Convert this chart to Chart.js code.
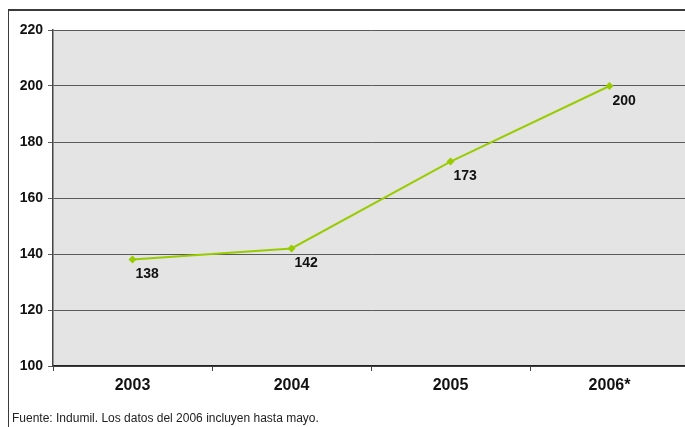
<!DOCTYPE html>
<html>
<head>
<meta charset="utf-8">
<script src="https://cdn.jsdelivr.net/npm/chart.js@4"></script>
<style>
  html, body { margin: 0; padding: 0; background: #fff; overflow: hidden; }
  #wrap { position: relative; width: 685px; height: 427px; overflow: hidden; }
  #frame { position: absolute; left: 8px; top: 9px; width: 700px; height: 430px;
           border-top: 2px solid #3a3a3a; border-left: 1px solid #3a3a3a; }
  #myChart { position: absolute; left: 0; top: 0; }
  #note { position: absolute; left: 12px; top: 411px; font: 12px "Liberation Sans", Arial, sans-serif; color: #222; }
</style>
</head>
<body>
<div id="wrap">
  <div id="frame"></div>
  <canvas id="myChart" width="700" height="427"></canvas>
  <div id="note">Fuente: Indumil. Los datos del 2006 incluyen hasta mayo.</div>
</div>
<script>
var years = ["2003", "2004", "2005", "2006*"];
var values = [138, 142, 173, 200];
var yMin = 100, yMax = 220, yStep = 20;

// fondo gris del area de trazado
var plotBg = {
  id: "plotBg",
  beforeDraw: function (chart) {
    var a = chart.chartArea, c = chart.ctx;
    c.save();
    c.fillStyle = "#e4e4e4";
    c.fillRect(a.left, a.top, a.right - a.left, a.bottom - a.top);
    c.restore();
  }
};

// etiquetas de valor debajo de cada punto
var valueLabels = {
  id: "valueLabels",
  afterDatasetsDraw: function (chart) {
    var c = chart.ctx;
    var meta = chart.getDatasetMeta(0);
    c.save();
    c.font = "bold 14px 'Liberation Sans', Arial, sans-serif";
    c.fillStyle = "#111";
    c.textAlign = "left";
    c.textBaseline = "middle";
    meta.data.forEach(function (pt, i) {
      c.fillText(values[i], pt.x + 3, pt.y + 15);
    });
    c.restore();
  }
};

var ctx = document.getElementById("myChart");
var myChart = new Chart(ctx, {
  type: "line",
  data: {
    labels: years,
    datasets: [{
      label: "",
      data: values,
      borderColor: "#99cc00",
      backgroundColor: "#99cc00",
      borderWidth: 2,
      pointStyle: "rectRot",
      pointRadius: 4,
      pointBorderWidth: 0,
      tension: 0
    }]
  },
  options: {
    responsive: false,
    animation: false,
    events: [],
    layout: { padding: { left: 0, right: 11, top: 30, bottom: 0 } },
    plugins: { legend: { display: false }, tooltip: { enabled: false } },
    scales: {
      x: {
        offset: true,
        grid: { offset: true, drawOnChartArea: false, drawTicks: true, tickLength: 5, color: "#444" },
        border: { color: "#222", width: 1.5 },
        ticks: { padding: 5, color: "#111", font: { family: "'Liberation Sans', Arial, sans-serif", size: 16, weight: "bold" } },
        afterFit: function (axis) { axis.height = 61; }
      },
      y: {
        min: yMin,
        max: yMax,
        ticks: { stepSize: yStep, padding: 5, color: "#111", font: { family: "'Liberation Sans', Arial, sans-serif", size: 14, weight: "bold" } },
        grid: { color: "#5a5a5a", lineWidth: 1, tickLength: 5 },
        border: { color: "#444", width: 1.5 },
        afterFit: function (axis) { axis.width = 53; }
      }
    }
  },
  plugins: [plotBg, valueLabels]
});
</script>
</body>
</html>
